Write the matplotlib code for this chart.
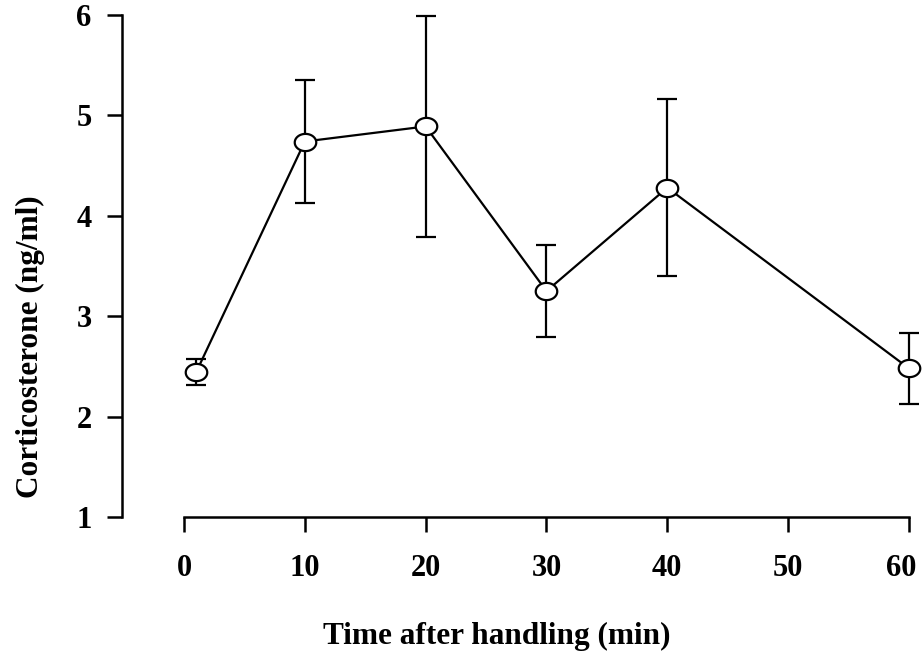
import numpy as np
import matplotlib
matplotlib.use("Agg")
import matplotlib.pyplot as plt
import matplotlib.transforms as mtransforms
from matplotlib.path import Path

# Corticosterone time course after handling
time_min = [1, 10, 20, 30, 40, 60]
cort_mean = [2.44, 4.74, 4.89, 3.25, 4.28, 2.48]
cort_err = [0.13, 0.61, 1.10, 0.46, 0.88, 0.35]
x_ticks = [0, 10, 20, 30, 40, 50, 60]
y_ticks = [1, 2, 3, 4, 5, 6]

plt.rcParams['font.family'] = ['Liberation Serif', 'DejaVu Serif']
plt.rcParams['font.weight'] = 'bold'

W, H = 922, 655
fig = plt.figure(figsize=(W / 100, H / 100), dpi=100)

# axes placed in pixel units: left spine at x=122, right edge 922, top y=15, bottom y=517
left, right, top, bottom = 122, 922, 15, 517
ax = fig.add_axes([left / W, 1 - bottom / H, (right - left) / W, (bottom - top) / H])
ax.set_xlim(-5.13, 61.08)
ax.set_ylim(1, 6)

# oval open marker (wider than tall)
t = np.linspace(0, 2 * np.pi, 60)
oval = Path(np.column_stack([np.cos(t), 0.8 * np.sin(t)]), closed=True)

ax.errorbar(time_min, cort_mean, yerr=cort_err, fmt='none', ecolor='black',
            elinewidth=1.6, capsize=7.5, capthick=1.6, zorder=2, clip_on=False)
ax.plot(time_min, cort_mean, color='black', lw=1.6, zorder=3, clip_on=False)
ax.plot(time_min, cort_mean, linestyle='none', marker=oval, markersize=15.5,
        markerfacecolor='white', markeredgecolor='black', markeredgewidth=1.6,
        zorder=4, clip_on=False)

for s in ['top', 'right']:
    ax.spines[s].set_visible(False)
for s in ['left', 'bottom']:
    ax.spines[s].set_linewidth(1.8)
ax.spines['left'].set_bounds(1, 6)
ax.spines['bottom'].set_bounds(0, 60)

ax.set_xticks(x_ticks)
ax.set_yticks(y_ticks)
ax.tick_params(axis='both', direction='out', length=10.8, width=1.8, labelsize=22)
ax.tick_params(axis='x', pad=16)
ax.tick_params(axis='y', pad=11)
for lab in ax.get_xticklabels() + ax.get_yticklabels():
    lab.set_fontweight('bold')

# nudge the last x label inward so it stays inside the figure edge
last = ax.get_xticklabels()[-1]
last.set_transform(last.get_transform() +
                   mtransforms.ScaledTranslation(-8 / 100, 0, fig.dpi_scale_trans))

fig.text(497 / W, 1 - 636 / H, 'Time after handling (min)', ha='center', va='center',
         fontsize=22.5, fontweight='bold')
fig.text(30 / W, 1 - 347 / H, 'Corticosterone (ng/ml)', ha='center', va='center',
         rotation=90, fontsize=22.5, fontweight='bold')

fig.savefig('out.png', dpi=100)
